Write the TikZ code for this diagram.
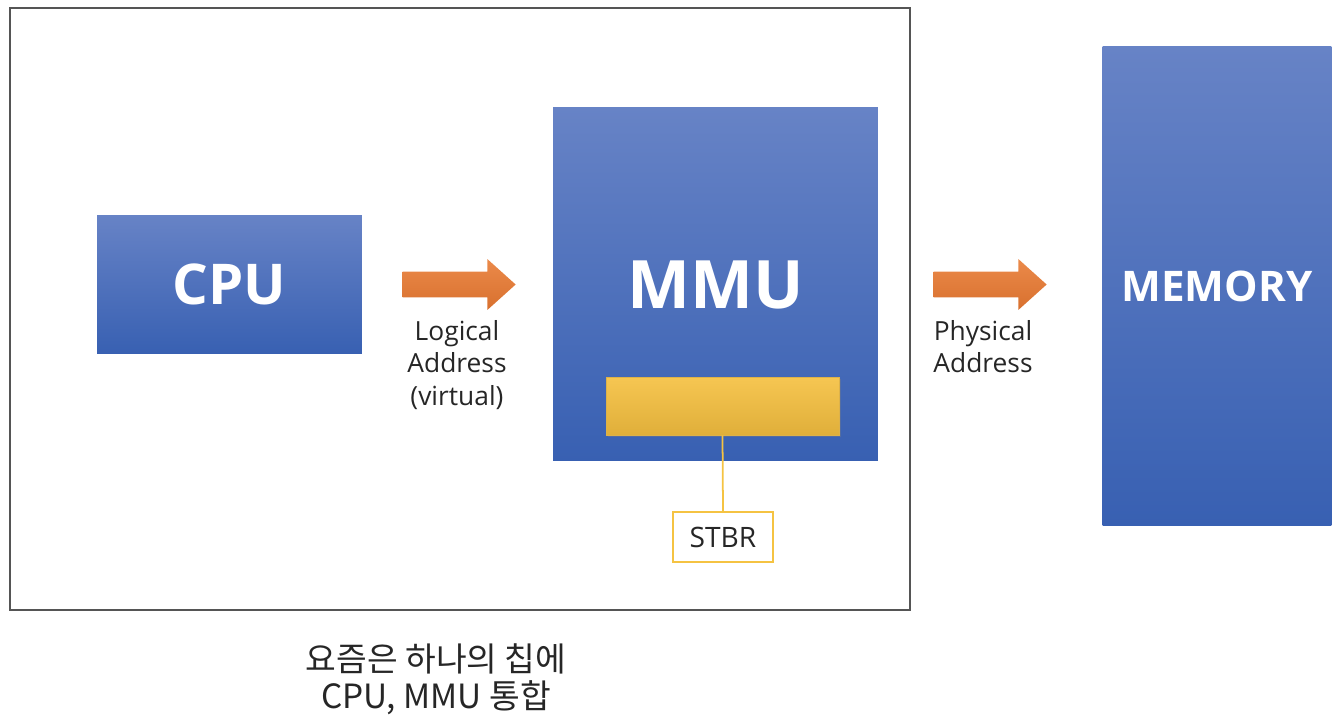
\documentclass[tikz,border=0pt]{standalone}
\usepackage{fontspec}
\setmainfont{Open Sans}
\newfontfamily\krfont{Noto Sans CJK KR}
\usepackage{xcolor}
\usetikzlibrary{positioning, shapes.arrows, shadows}
\definecolor{blueTop}{HTML}{6783C6}
\definecolor{blueBot}{HTML}{3860B2}
\definecolor{orangeTop}{HTML}{EB8A4A}
\definecolor{orangeBot}{HTML}{D8702E}
\definecolor{goldTop}{HTML}{F6C652}
\definecolor{goldBot}{HTML}{E0AF3A}
\definecolor{goldLine}{HTML}{F5C342}
\definecolor{frameGray}{HTML}{555555}
\definecolor{labelGray}{HTML}{262626}
\tikzset{
    unit/.style={rectangle, top color=blueTop, bottom color=blueBot, text=white, align=center, inner sep=0pt, font=\bfseries},
    reg/.style={rectangle, top color=goldTop, bottom color=goldBot, draw=goldTop!90!black, line width=0.3pt, inner sep=0pt, minimum width=4.66cm, minimum height=1.16cm, drop shadow={opacity=0.35, shadow xshift=1.2pt, shadow yshift=-1.2pt}},
    tag/.style={rectangle, draw=goldLine, line width=1pt, fill=white, minimum width=2cm, minimum height=1cm, inner sep=0pt, font=\fontsize{16}{19}\selectfont, text=labelGray},
    flow/.style={single arrow, top color=orangeTop, bottom color=orangeBot, minimum height=2.26cm, minimum width=1cm, inner xsep=0pt, inner ysep=0.25cm, single arrow head extend=0.25cm, single arrow tip angle=84},
    addr/.style={align=center, font=\fontsize{15}{18.5}\selectfont, text=labelGray, inner sep=0pt},
    frame/.style={draw=frameGray, line width=1.2pt}
}
\begin{document}
\begin{tikzpicture}[x=0.02cm, y=-0.02cm]
        \useasboundingbox (0,0) rectangle (1342,724);
        % Chip frame
        \draw[frame] (10,8) rectangle (910,610);

        % Units
        \node[unit, minimum width=5.3cm, minimum height=2.78cm, font=\bfseries\fontsize{32}{38}\selectfont] (CPU) at (229.5,284.5) {CPU};
        \node[unit, minimum width=6.5cm, minimum height=7.08cm] (MMU) at (715.5,284) {};
        \node[text=white, font=\bfseries\fontsize{38}{46}\selectfont] (MMUText) at (715.5,285) {MMU};
        \node[unit, minimum width=4.58cm, minimum height=9.58cm, font=\bfseries\fontsize{24}{29}\selectfont] (Memory) at (1217,286) {MEMORY};

        % Register inside MMU
        \node[reg] (Reg) at (722.5,406) {};
        \node[tag] (STBR) at (723,537) {STBR};
        \draw[goldLine, line width=1pt] (Reg.south) -- (STBR.north);

        % Address flow
        \node[flow] (Logical) at (452,284.5) {};
        \node[flow] (Physical) at (983,284.5) {};
        \node[addr, below=0.44cm of Logical.south, anchor=north, xshift=0.1cm] (LogicalText) {Logical\\Address\\(virtual)};
        \node[addr, below=0.44cm of Physical.south, anchor=north] (PhysicalText) {Physical\\Address};

        % Note
        \node[align=center, font=\krfont\fontsize{19}{21}\selectfont, text=labelGray] (Note) at (436,679) {요즘은 하나의 칩에\\CPU, MMU 통합};

    \end{tikzpicture}
\end{document}
